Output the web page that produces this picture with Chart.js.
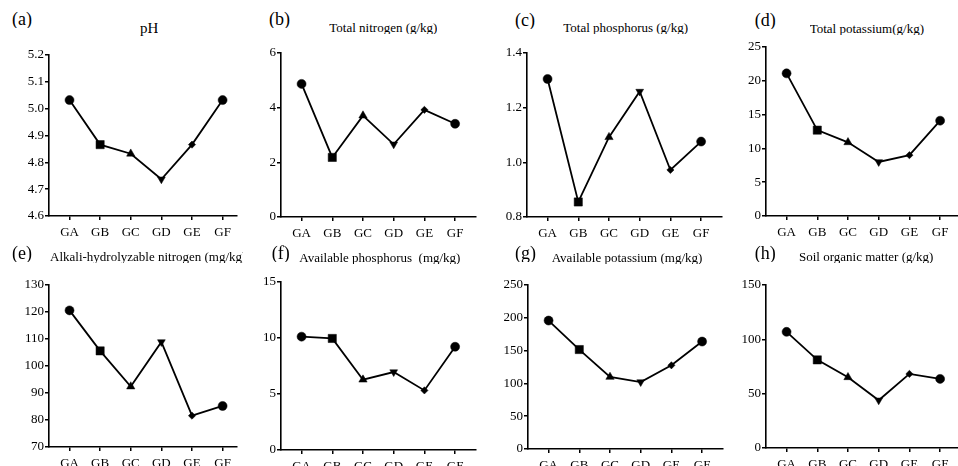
<!DOCTYPE html>
<html><head><meta charset="utf-8">
<script src="https://cdn.jsdelivr.net/npm/chart.js@4.4.1/dist/chart.umd.min.js"></script>
<style>
html,body{margin:0;padding:0}
body{width:958px;height:466px;overflow:hidden;background:#fff;position:relative;font-family:"Liberation Serif","Times New Roman",serif;color:#000}
canvas{position:absolute}
.t{position:absolute;white-space:pre;line-height:1;overflow:hidden}
</style></head><body>
<script>
// ---------- data ----------
const categories = ['GA','GB','GC','GD','GE','GF'];
const pH              = [5.032, 4.866, 4.832, 4.737, 4.866, 5.032];
const totalNitrogen   = [4.87, 2.18, 3.71, 2.66, 3.92, 3.41];
const totalPhosphorus = [1.305, 0.855, 1.092, 1.259, 0.972, 1.076];
const totalPotassium  = [21.1, 12.7, 10.9, 8.0, 9.0, 14.1];
const alkaliNitrogen  = [120.6, 105.6, 92.4, 108.9, 81.6, 85.2];
const availablePhos   = [10.12, 9.96, 6.28, 6.96, 5.32, 9.22];
const availablePotas  = [195.8, 151.6, 109.8, 102.1, 127.6, 163.8];
const organicMatter   = [106.9, 81.1, 65.1, 43.9, 68.2, 63.6];

const ticksPH   = [4.6, 4.7, 4.8, 4.9, 5.0, 5.1, 5.2];
const ticksTN   = [0, 2, 4, 6];
const ticksTP   = [0.8, 1.0, 1.2, 1.4];
const ticksTK   = [0, 5, 10, 15, 20, 25];
const ticksAN   = [70, 80, 90, 100, 110, 120, 130];
const ticksAP   = [0, 5, 10, 15];
const ticksAK   = [0, 50, 100, 150, 200, 250];
const ticksOM   = [0, 50, 100, 150];

const panelLetters = ['(a)','(b)','(c)','(d)','(e)','(f)','(g)','(h)'];
const panelTitles = ['pH','Total nitrogen (g/kg)','Total phosphorus (g/kg)','Total potassium(g/kg)',
  'Alkali-hydrolyzable nitrogen (mg/kg)','Available phosphorus  (mg/kg)','Available potassium (mg/kg)','Soil organic matter (g/kg)'];

// ---------- styles (marker per category) ----------
const markerStyles   = ['circle','rect','triangle','triangle','rectRot','circle'];
const markerRotation = [0, 0, 0, 180, 0, 0];
const markerRadius   = [4.5, 5.8, 4.8, 4.5, 3.6, 4.5];

// ---------- layout ----------
const SPACING = 31.5, XMIN = -0.67, YAXW = 45, PADT = 10, XAXH = 30;
const panels = [
  {v:pH, t:ticksPH, dec:1, ax:49,  top:55,  bot:216, xmax:5.47, L:[12,20,18],   T:[140,30,15]},
  {v:totalNitrogen, t:ticksTN, dec:0, ax:281, top:53, bot:217, xmax:5.68, L:[269,20.7,18], T:[329.3,28.3,13]},
  {v:totalPhosphorus, t:ticksTP, dec:1, ax:527, top:53, bot:217, xmax:5.68, L:[515,21.7,18], T:[563.3,28.3,13]},
  {v:totalPotassium, t:ticksTK, dec:0, ax:766, top:47, bot:216, xmax:5.68, L:[754.7,21.7,18], T:[809.7,30,13]},
  {v:alkaliNitrogen, t:ticksAN, dec:0, ax:49, top:285, bot:447, xmax:5.47, L:[12,254.7,18], T:[50,258,13], clip:193},
  {v:availablePhos, t:ticksAP, dec:0, ax:281, top:282, bot:450, xmax:5.68, L:[271.7,254.7,18], T:[299.3,259,13]},
  {v:availablePotas, t:ticksAK, dec:0, ax:528, top:285, bot:449, xmax:5.68, L:[515,254.7,18], T:[551.7,259,13]},
  {v:organicMatter, t:ticksOM, dec:0, ax:766, top:285, bot:448, xmax:5.68, L:[754.7,254.7,18], T:[799,258,13]}
];

function addText(txt, x, cy, size, clipW){
  const d = document.createElement('div');
  d.className = 't';
  d.textContent = txt;
  d.style.left = x + 'px';
  d.style.top = (cy - 0.58*size) + 'px';
  d.style.fontSize = size + 'px';
  if (clipW) d.style.width = clipW + 'px';
  document.body.appendChild(d);
}

const FONT = {family:'"Liberation Serif","Times New Roman",serif', size:13};

panels.forEach((p, k) => {
  addText(panelLetters[k], p.L[0], p.L[1], p.L[2]);
  addText(panelTitles[k], p.T[0], p.T[1], p.T[2], p.clip);

  const len = Math.round((p.xmax - XMIN) * SPACING);
  const c = document.createElement('canvas');
  const W = YAXW + len, H = PADT + (p.bot - p.top) + XAXH;
  c.width = W; c.height = H;
  c.style.width = W + 'px'; c.style.height = H + 'px';
  c.style.left = (p.ax - YAXW) + 'px';
  c.style.top = (p.top - PADT) + 'px';
  document.body.appendChild(c);

  const yt = p.t;
  new Chart(c, {
    type: 'line',
    data: {
      datasets: [{
        data: p.v.map((y, i) => ({x: i, y: y})),
        borderColor: '#000',
        borderWidth: 1.8,
        backgroundColor: '#000',
        pointBackgroundColor: '#000',
        pointBorderColor: '#000',
        pointBorderWidth: 0.5,
        pointStyle: markerStyles,
        rotation: markerRotation,
        pointRadius: markerRadius,
        tension: 0,
        fill: false,
        clip: false
      }]
    },
    options: {
      responsive: false,
      animation: false,
      devicePixelRatio: 1,
      events: [],
      layout: {padding: {top: PADT, left: 0, right: 0, bottom: 0}},
      plugins: {legend: {display: false}, tooltip: {enabled: false}, title: {display: false}},
      scales: {
        x: {
          type: 'linear',
          min: XMIN, max: p.xmax,
          afterBuildTicks: s => { s.ticks = categories.map((_, i) => ({value: i})); },
          afterFit: s => { s.height = XAXH; },
          border: {display: true, color: '#000', width: 1.6},
          grid: {display: true, drawOnChartArea: false, drawTicks: true, tickLength: 4, color: '#000', lineWidth: 1.5},
          ticks: {
            color: '#000', font: FONT, padding: 5, maxRotation: 0, autoSkip: false,
            callback: v => categories[v]
          }
        },
        y: {
          type: 'linear',
          min: yt[0], max: yt[yt.length - 1],
          afterBuildTicks: s => { s.ticks = yt.map(v => ({value: v})); },
          afterFit: s => { s.width = YAXW; },
          border: {display: true, color: '#000', width: 1.6},
          grid: {display: true, drawOnChartArea: false, drawTicks: true, tickLength: 4, color: '#000', lineWidth: 1.5},
          ticks: {
            color: '#000', font: FONT, padding: 1,
            callback: v => Number(v).toFixed(p.dec)
          }
        }
      }
    }
  });
});
</script>
</body></html>
